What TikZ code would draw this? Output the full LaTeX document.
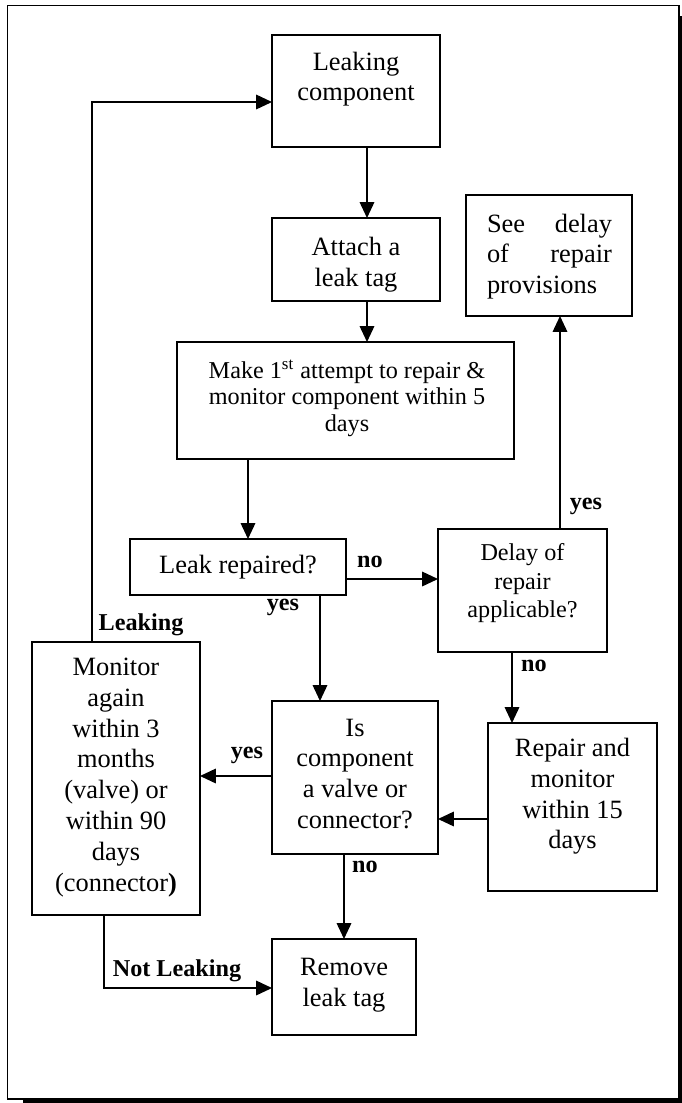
\documentclass[tikz,border=0pt]{standalone}
\usepackage{fontspec}
\setmainfont{Liberation Serif}
\usetikzlibrary{arrows.meta}
\def\PX{0.4545pt}
\tikzset{
  bx/.style 2 args={draw, line width=0.9pt, minimum width={#1*\PX}, minimum height={#2*\PX}, inner sep=0pt, outer sep=0pt},
  tx/.style={anchor=north, inner sep=0pt, align=center, font=\fontsize{12}{14}\selectfont},
  txs/.style={anchor=north, inner sep=0pt, align=center, font=\fontsize{11}{12}\selectfont},
  lab/.style={inner sep=0pt, font=\fontsize{11}{13}\selectfont\bfseries},
  arr/.style={line width=0.7pt, -{Triangle[length=7.2pt,width=6.6pt]}},
}
\begin{document}
\begin{tikzpicture}[x=\PX, y=-\PX]
\useasboundingbox (0,0) rectangle (682,1103);
% frame with shadow
\draw[line width=0.8pt] (7.5,5.5) rectangle (679,1099);
\fill (679.5,16) rectangle (682,1103);
\fill (23,1099.6) rectangle (682,1103);

% boxes
\node[bx={168}{112}] (lc) at (356,91) {};
\node[tx] (lcT) at (356,48) {\strut Leaking\\component};

\node[bx={168}{83}] (tag) at (356,259.5) {};
\node[tx] (tagT) at (356,233.5) {\strut Attach a\\leak tag};

\node[bx={337}{117}] (mk) at (345.5,400.5) {};
\node[txs] (mkT) at (347,359.5) {\strut Make 1\textsuperscript{st} attempt to repair \&\\monitor component within 5\\days};

\node[bx={166}{121}] (see) at (549,255.5) {};
\node[tx, align=left, text width={125*\PX}] (seeT) at (549.5,210) {\strut See\hfill delay\\of\hfill repair\\provisions};

\node[bx={216}{56}, font=\fontsize{12}{14}\selectfont] (rep) at (238,567) {Leak repaired?};

\node[bx={169}{123}] (dl) at (522.5,590.5) {};
\node[txs, font=\fontsize{11}{13}\selectfont] (dlT) at (522.5,540) {\strut Delay of\\repair\\applicable?};

\node[bx={168}{273}] (mon) at (116,778.5) {};
\node[tx] (monT) at (116,653.4) {\strut Monitor\\again\\within 3\\months\\(valve) or\\within 90\\days\\(connector\textbf{)}};

\node[bx={166}{153}] (isc) at (355,777.5) {};
\node[tx] (iscT) at (355,714) {\strut Is\\component\\a valve or\\connector?};

\node[bx={169}{168}] (rm) at (572.5,807) {};
\node[tx] (rmT) at (572.5,734.4) {\strut Repair and\\monitor\\within 15\\days};

\node[bx={144}{96}] (rt) at (344,987) {};
\node[tx] (rtT) at (344,953.4) {\strut Remove\\leak tag};

% connector guide coordinates
\coordinate (cA) at (367,0);
\coordinate (cB) at (248,0);
\coordinate (cC) at (0,579);
\coordinate (cD) at (560,0);
\coordinate (cE) at (320,0);
\coordinate (cF) at (512,0);
\coordinate (cG) at (0,819);
\coordinate (cH) at (0,776);
\coordinate (cI) at (344,0);
\coordinate (cJ) at (92,102);
\coordinate (cK) at (104,988);

% connectors
\draw[arr] (lc.south -| cA) -- (tag.north -| cA);
\draw[arr] (tag.south -| cA) -- (mk.north -| cA);
\draw[arr] (mk.south -| cB) -- (rep.north -| cB);
\draw[arr] (rep.east |- cC) -- (dl.west |- cC);
\draw[arr] (dl.north -| cD) -- (see.south -| cD);
\draw[arr] (rep.south -| cE) -- (isc.north -| cE);
\draw[arr] (dl.south -| cF) -- (rm.north -| cF);
\draw[arr] (rm.west |- cG) -- (isc.east |- cG);
\draw[arr] (isc.west |- cH) -- (mon.east |- cH);
\draw[arr] (isc.south -| cI) -- (rt.north -| cI);
\draw[arr] (mon.north -| cJ) -- (cJ) -- (lc.west |- cJ);
\draw[arr] (mon.south -| cK) -- (cK) -- (rt.west |- cK);

% labels
\node[lab] (l1) at (370,562) {no};
\node[lab] (l2) at (586,506) {yes};
\node[lab] (l3) at (283,607) {yes};
\node[lab] (l4) at (141,625) {Leaking};
\node[lab] (l5) at (534,666) {no};
\node[lab] (l6) at (247,755) {yes};
\node[lab] (l7) at (365,867) {no};
\node[lab] (l8) at (177,971) {Not Leaking};
\end{tikzpicture}
\end{document}
